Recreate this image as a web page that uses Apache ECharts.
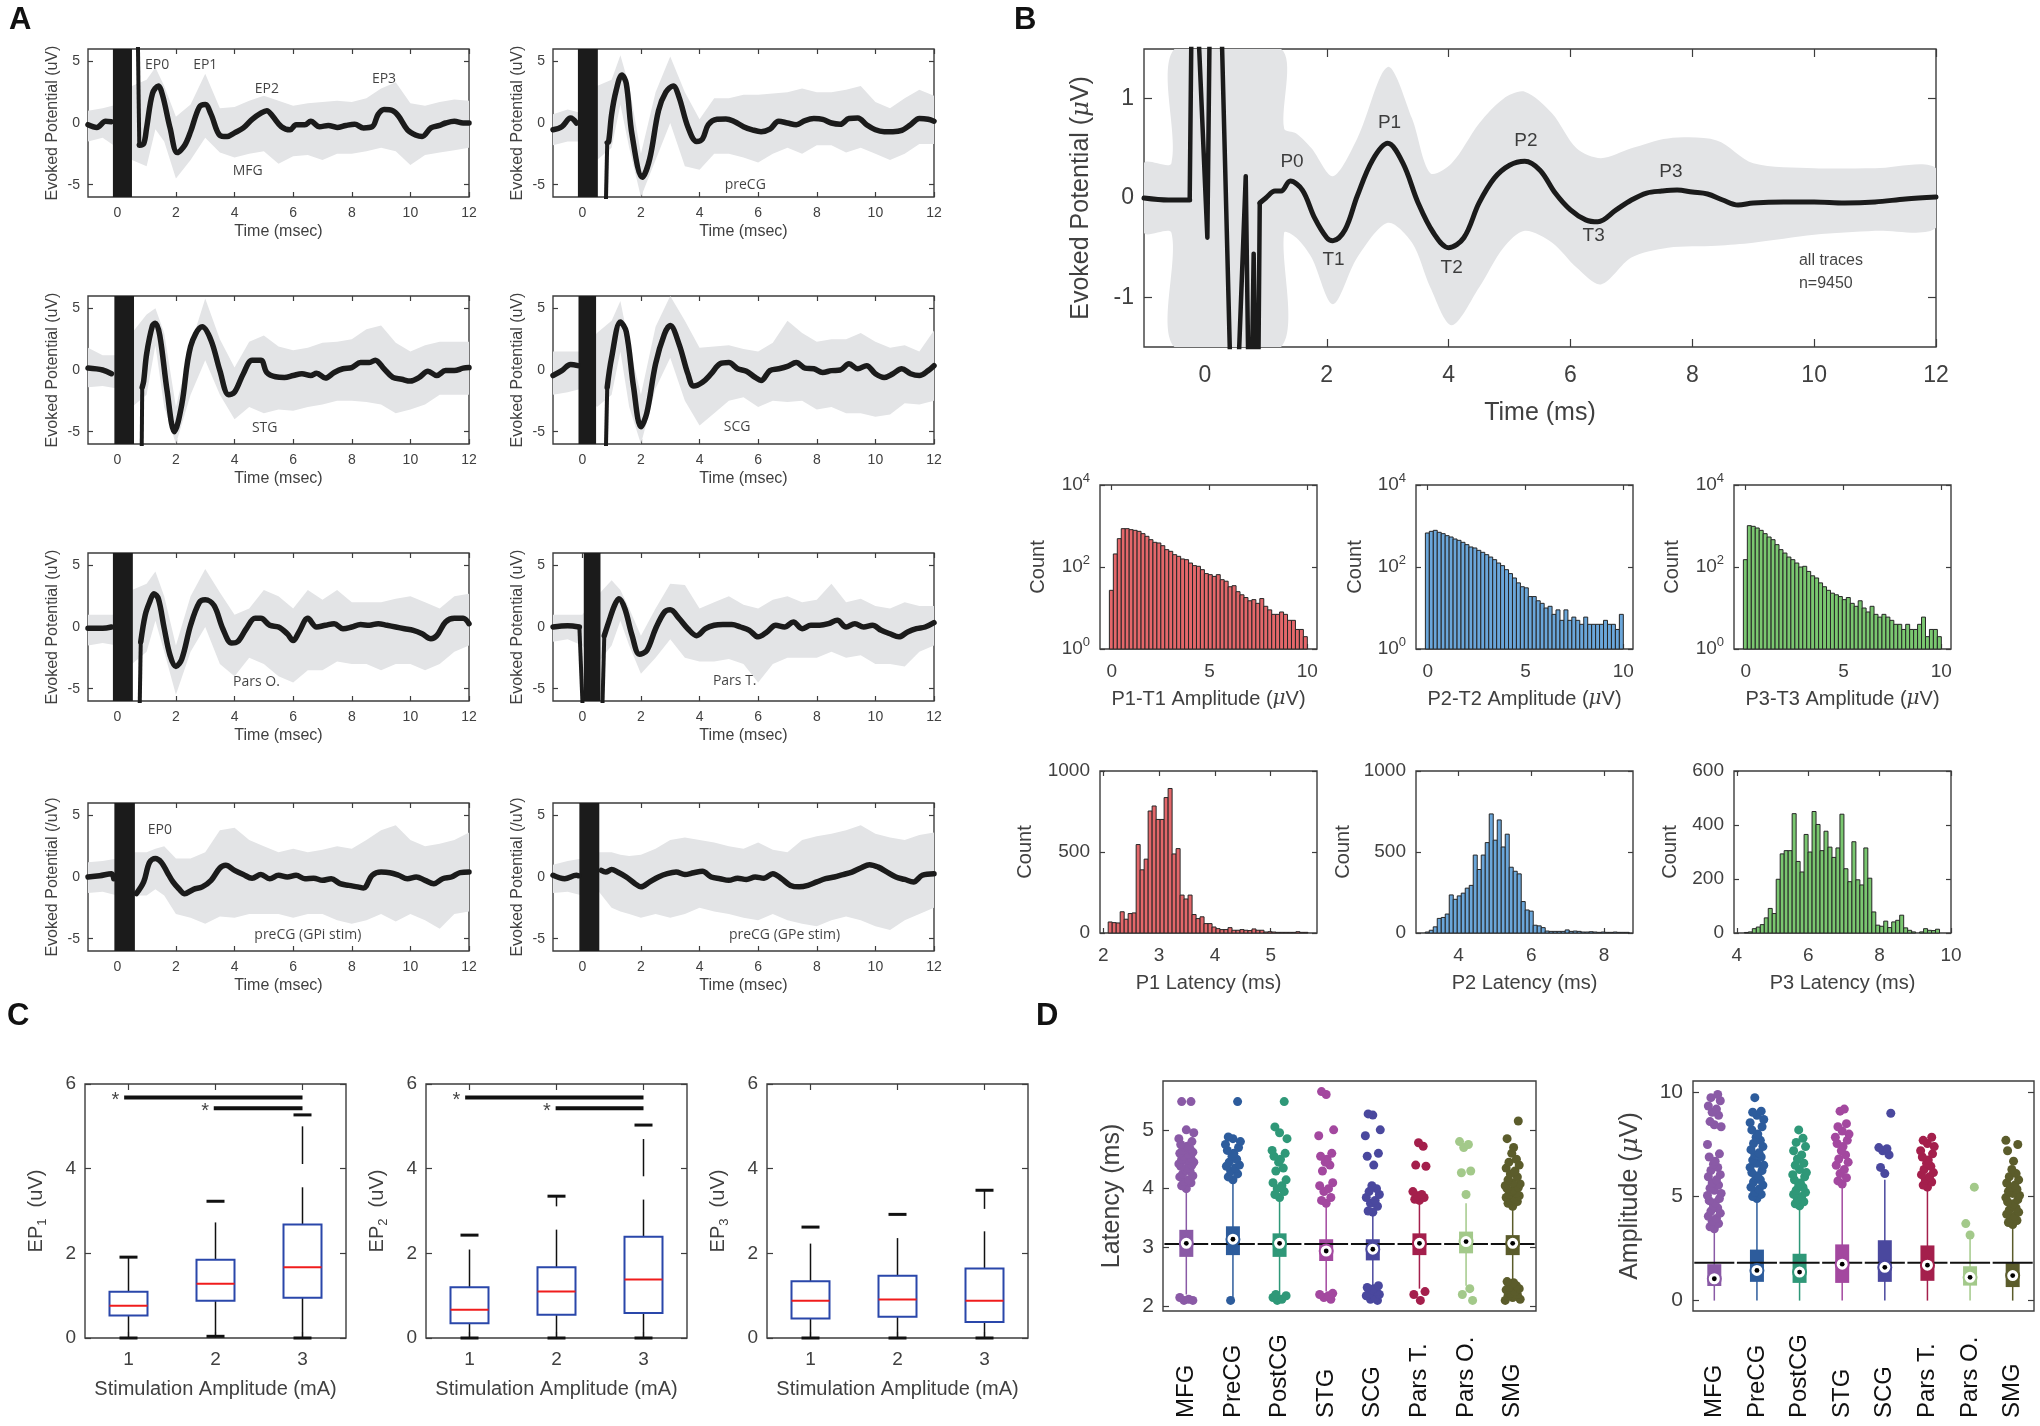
<!DOCTYPE html>
<html>
<head>
<meta charset="utf-8">
<script src="https://cdn.jsdelivr.net/npm/echarts@6/dist/echarts.min.js"></script>
<style>
html, body { margin: 0; padding: 0; background: #fff; }
#chart { width: 2040px; height: 1426px; }
</style>
</head>
<body>
<div id="chart"></div>
<script>
// ---------- A: evoked potentials per region ----------
const bandT = [-1,-0.5,0,0.5,1.0,1.3,1.6,2.0,2.5,3.0,3.5,4.0,4.5,5.0,5.5,6.0,6.5,7.0,7.5,8.0,8.5,9.0,9.5,10.0,10.5,11.0,11.5,12.0];

const mfgT = [-1,-0.7,-0.4,-0.2,-0.1,0.75,0.9,1.0,1.2,1.4,1.55,1.8,2.05,2.3,2.5,2.8,3.0,3.2,3.5,3.75,4.0,4.3,4.6,4.9,5.1,5.3,5.6,5.9,6.1,6.4,6.6,6.9,7.2,7.5,7.8,8.1,8.4,8.7,8.9,9.1,9.4,9.6,9.9,10.2,10.4,10.7,11.0,11.2,11.5,11.8,12];
const mfgV = [-0.14,-0.36,0.14,0.1,0,-1.8,-1.67,-0.4,2.4,3.0,2.2,-0.4,-2.4,-1.8,-0.7,1.3,1.5,0.7,-1.0,-1.1,-0.8,-0.4,0.3,0.8,1.0,0.55,-0.3,-0.55,-0.14,-0.14,0.14,-0.3,-0.2,-0.36,-0.2,-0.1,-0.4,-0.3,0.7,1.1,1.0,0.55,-0.55,-1.0,-1.1,-0.4,-0.2,0,0.14,0,0];
const mfgHi = [1.0,1.2,1.5,3.0,3.5,4.5,3.0,0.5,1.5,4.0,1.2,1.3,1.8,2.2,1.8,1.4,1.6,1.7,1.8,1.7,2.0,2.8,3.3,1.6,1.4,1.7,1.9,1.8];
const mfgLo = [-1.5,-1.2,-2.0,-3.0,-3.5,-0.5,-1.5,-4.5,-3.0,-1.2,-2.4,-2.8,-2.5,-2.3,-3.3,-2.7,-2.6,-3.0,-2.5,-2.5,-2.3,-2.0,-2.3,-3.4,-2.6,-2.4,-2.2,-2.0];
const mfgArtT = [0.7,0.75], mfgArtV = [7,-1.8];
const mfgNotes = [[1.36,4.7,'EP0'],[3.0,4.7,'EP1'],[5.1,2.75,'EP2'],[9.1,3.55,'EP3'],[4.45,-3.9,'MFG']];

const precgT = [-1,-0.7,-0.4,-0.2,-0.1,0.85,0.9,1.0,1.15,1.35,1.5,1.7,2.05,2.3,2.6,2.85,3.1,3.3,3.6,3.9,4.1,4.3,4.6,4.9,5.2,5.5,5.8,6.1,6.4,6.7,7.0,7.3,7.6,7.9,8.2,8.5,8.8,9.1,9.4,9.7,10.0,10.3,10.6,10.9,11.2,11.5,11.8,12];
const precgV = [-0.55,-0.3,0.4,0,-1.0,-1.6,-1.5,0.7,2.6,3.9,3.2,-1.0,-4.4,-2.9,1.0,2.5,3.0,2.1,-0.3,-1.5,-1.3,-0.14,0.3,0.33,0.1,-0.3,-0.55,-0.7,-0.5,0.14,0,-0.14,0.2,0.36,0.3,0,-0.1,0.36,0.4,-0.14,-0.55,-0.7,-0.7,-0.6,-0.14,0.36,0.3,0.14];
const precgHi = [0.7,1.1,0.8,3.0,3.5,5.5,3.0,-2.5,2.5,5.4,2.5,0.3,2.0,2.0,2.3,2.3,2.4,2.5,2.8,2.5,2.5,2.7,3.0,1.7,1.2,2.0,2.7,2.2];
const precgLo = [-1.8,-1.5,-1.5,-3.0,-2.0,1.5,-2.0,-6.0,-3.0,0.0,-3.5,-3.8,-2.5,-2.5,-2.8,-3.2,-2.5,-2.0,-2.5,-1.8,-1.8,-2.4,-2.0,-2.5,-3.0,-2.5,-1.7,-1.7];
const precgArtT = [0.8,0.85], precgArtV = [-7,-1.6];
const precgNotes = [[5.56,-5.0,'preCG']];

const stgT = [-1,-0.5,-0.2,0.85,0.9,1.0,1.2,1.3,1.45,1.7,1.95,2.2,2.5,2.9,3.2,3.5,3.8,4.0,4.3,4.6,4.9,5.1,5.4,5.7,6.0,6.3,6.6,6.8,7.1,7.4,7.7,8.0,8.3,8.6,8.8,9.1,9.4,9.7,10.0,10.3,10.6,10.9,11.2,11.5,11.8,12];
const stgV = [0.16,0,-0.3,-1.4,-0.9,1.3,3.6,3.8,2.8,-1.7,-5.0,-2.8,1.9,3.5,2.4,-0.05,-2.0,-1.8,-0.3,0.8,0.8,-0.2,-0.55,-0.6,-0.45,-0.3,-0.45,-0.27,-0.65,-0.2,0.1,0.2,0.6,0.6,0.8,0.1,-0.6,-0.75,-0.9,-0.6,-0.1,-0.45,-0.05,-0.05,0.15,0.2];
const stgHi = [1.8,1.2,1.2,3.0,4.5,5.0,3.0,-3.0,2.0,5.8,2.5,0.2,2.3,2.8,1.9,1.6,1.8,2.2,2.3,2.5,3.3,3.6,2.2,1.5,2.0,2.3,2.3,2.3];
const stgLo = [-1.4,-1.3,-1.5,-3.0,-2.0,2.0,-3.0,-6.0,-2.0,0.8,-2.0,-4.0,-3.0,-3.5,-3.2,-3.3,-3.0,-2.8,-2.5,-2.5,-2.6,-2.8,-3.5,-3.2,-2.8,-2.0,-2.0,-2.0];
const stgArtT = [0.83,0.85], stgArtV = [-7,-1.4];
const stgNotes = [[5.03,-4.7,'STG']];

const scgT = [-1,-0.7,-0.4,-0.15,0.85,1.0,1.3,1.5,1.75,2.0,2.2,2.5,2.8,3.0,3.3,3.6,3.8,4.1,4.4,4.7,5.0,5.3,5.6,5.9,6.1,6.4,6.7,7.0,7.3,7.6,7.9,8.2,8.5,8.8,9.1,9.4,9.7,10.0,10.3,10.6,10.9,11.2,11.5,11.8,12];
const scgV = [-0.45,-0.05,0.45,0.35,-1.4,1.0,3.9,3.1,-1.4,-4.6,-3.5,0.5,2.9,3.6,2.1,-0.3,-1.3,-1.0,-0.3,0.5,0.6,0.1,-0.1,-0.6,-0.85,-0.05,0.1,0.3,0.6,0.15,0.1,-0.2,-0.05,0,0.5,0.1,0.35,-0.3,-0.6,-0.3,0.1,-0.3,-0.45,-0.05,0.35];
const scgHi = [1.5,1.5,1.5,3.0,4.0,5.6,2.0,-2.0,3.5,6.0,4.0,1.8,1.9,2.0,1.7,1.5,2.2,4.0,3.0,2.3,2.5,2.5,3.0,2.3,1.8,2.0,1.5,3.2];
const scgLo = [-2.0,-1.8,-1.5,-3.0,-2.0,1.5,-3.0,-6.0,-1.5,1.0,-2.5,-4.5,-3.5,-2.5,-2.2,-3.0,-2.5,-2.6,-2.5,-3.2,-3.0,-3.5,-3.5,-3.8,-3.6,-2.7,-2.8,-2.5];
const scgArtT = [0.8,0.85], scgArtV = [-7,-1.4];
const scgNotes = [[5.28,-4.6,'SCG']];

const parsoT = [-1,-0.5,-0.2,0.8,0.95,1.1,1.25,1.4,1.6,1.8,2.0,2.2,2.5,2.8,3.0,3.3,3.6,3.9,4.1,4.4,4.7,4.9,5.2,5.5,5.8,6.0,6.2,6.5,6.8,7.1,7.4,7.7,8.0,8.3,8.6,8.9,9.2,9.5,9.8,10.1,10.4,10.7,10.9,11.2,11.5,11.8,12];
const parsoV = [-0.1,-0.1,0,-1.2,0.95,2.0,2.7,2.3,-0.1,-2.3,-3.2,-2.6,0.14,2.0,2.2,1.75,-0.14,-1.3,-1.2,-0.14,0.7,0.7,0.14,0,-0.55,-1.1,-0.4,0.7,0,0.14,0.27,-0.14,0,0.2,0.14,0.27,0.14,0,-0.14,-0.27,-0.55,-0.95,-0.7,0.4,0.7,0.7,0.27];
const parsoHi = [1.0,1.0,1.0,3.0,3.5,4.5,2.5,-1.5,2.5,4.7,2.8,1.0,1.5,3.0,2.5,1.5,3.0,2.2,3.0,2.0,2.0,2.0,2.3,2.5,2.0,1.5,2.5,2.7];
const parsoLo = [-1.5,-1.3,-1.5,-3.0,-2.0,0.5,-2.0,-5.5,-2.0,0.0,-3.0,-4.0,-2.5,-3.0,-4.0,-4.5,-3.5,-3.5,-2.8,-3.0,-3.0,-3.5,-3.0,-3.0,-3.5,-3.0,-2.0,-1.5];
const parsoArtT = [0.76,0.8], parsoArtV = [-7,-1.2];
const parsoNotes = [[4.75,-4.46,'Pars O.']];

const parstT = [-1,-0.5,-0.1,0.75,0.9,1.1,1.25,1.45,1.7,1.95,2.2,2.5,2.8,3.0,3.3,3.6,3.9,4.2,4.5,4.8,5.1,5.4,5.7,6.0,6.3,6.6,6.9,7.2,7.5,7.8,8.1,8.4,8.7,9.0,9.3,9.6,9.9,10.2,10.5,10.8,11.1,11.4,11.7,12];
const parstV = [0,0.1,0,-0.7,0.4,1.75,2.3,1.5,-0.7,-2.2,-1.9,-0.14,1.2,1.4,0.7,-0.14,-0.7,-0.14,0.14,0.2,0.2,0,-0.27,-0.8,-0.4,0.14,0,0.4,-0.14,0.14,0.14,0.27,0.54,0,0.27,0,0.14,-0.27,-0.55,-0.8,-0.4,-0.14,0,0.35];
const parstHi = [1.0,1.0,1.0,2.5,3.8,3.0,1.5,-0.7,1.5,3.5,3.4,1.5,2.0,2.5,1.8,1.5,2.2,2.5,2.0,2.2,3.5,2.0,2.3,1.7,1.5,2.0,1.7,1.7];
const parstLo = [-1.2,-1.0,-1.5,-3.0,-1.5,0.5,-1.5,-3.8,-2.5,-1.0,-2.5,-2.8,-2.8,-2.6,-3.0,-4.5,-3.0,-2.5,-2.5,-2.5,-2.0,-2.5,-2.3,-3.0,-3.0,-3.2,-2.0,-1.5];
const parstArtT = [-0.1,0.02,null,0.68,0.75], parstArtV = [0,-7,null,-7,-0.7];
const parstNotes = [[5.2,-4.4,'Pars T.']];

const gpiT = [-1,-0.6,-0.2,-0.12,0.65,0.9,1.1,1.3,1.5,1.7,1.9,2.1,2.3,2.6,2.9,3.2,3.5,3.7,4.0,4.3,4.6,4.9,5.2,5.5,5.8,6.1,6.4,6.7,7.0,7.3,7.6,7.9,8.2,8.4,8.7,9.0,9.3,9.6,9.9,10.2,10.5,10.8,11.1,11.4,11.7,12];
const gpiV = [0,0.1,0.27,-0.14,-1.35,-0.4,1.2,1.5,1.2,0.4,-0.4,-0.95,-1.35,-1.0,-0.8,-0.27,0.73,0.95,0.54,0.2,-0.1,0.2,-0.14,0.14,0,0.14,-0.14,-0.1,-0.27,-0.14,-0.54,-0.68,-0.8,-0.9,0.14,0.4,0.35,0.14,-0.14,0,-0.27,-0.54,-0.14,0,0.35,0.4];
const gpiHi = [1.2,1.3,1.5,2.0,2.0,2.3,2.5,1.5,1.5,2.0,3.8,4.0,3.0,2.5,2.0,2.3,2.0,2.2,2.5,2.3,3.0,3.8,4.2,3.0,2.5,2.7,3.0,3.6];
const gpiLo = [-1.3,-1.2,-1.5,-1.5,-1.5,-1.0,-1.5,-3.0,-3.3,-3.8,-3.2,-3.3,-3.0,-3.0,-3.0,-3.3,-3.0,-3.0,-3.5,-3.8,-3.5,-3.0,-3.6,-3.0,-3.5,-4.2,-3.0,-2.8];
const gpiArtT = [], gpiArtV = [];
const gpiNotes = [[1.45,3.8,'EP0'],[6.5,-4.73,'preCG (GPi stim)']];

const gpeT = [-1,-0.6,-0.2,-0.12,0.65,0.8,1.0,1.2,1.5,1.8,2.0,2.3,2.6,2.9,3.2,3.5,3.8,4.1,4.4,4.7,5.0,5.3,5.6,5.9,6.2,6.5,6.8,7.1,7.4,7.7,8.0,8.3,8.6,8.9,9.2,9.5,9.8,10.1,10.4,10.7,11.0,11.3,11.6,12];
const gpeV = [0.14,-0.14,0.14,0.1,0.54,0.4,0.6,0.4,0,-0.54,-0.8,-0.4,0,0.27,0.4,0.2,0.35,0.46,0,-0.14,-0.27,-0.1,-0.2,0,-0.1,0.27,-0.14,-0.68,-0.8,-0.68,-0.4,-0.14,0,0.2,0.4,0.73,1.0,0.8,0.4,0,-0.2,-0.4,0.14,0.27];
const gpeHi = [1.0,1.3,1.5,2.0,2.0,1.8,1.7,1.8,2.3,3.0,3.2,3.0,2.8,2.5,2.3,2.8,2.2,2.0,3.0,3.3,3.5,3.8,4.2,3.5,3.2,3.0,3.4,3.6];
const gpeLo = [-1.3,-1.2,-1.5,-1.0,-2.5,-2.8,-3.0,-3.3,-3.0,-3.3,-3.0,-2.5,-2.8,-3.0,-3.3,-3.5,-3.0,-3.5,-3.8,-4.0,-3.5,-3.2,-3.5,-4.0,-4.3,-3.5,-3.0,-2.5];
const gpeArtT = [], gpeArtV = [];
const gpeNotes = [[6.9,-4.73,'preCG (GPe stim)']];

// stimulation artifact windows (ms), order: MFG, preCG, STG, SCG, Pars O., Pars T., GPi, GPe
const artStart = [-0.15,-0.15,-0.1,-0.13,-0.15,0.05,-0.1,-0.1];
const artEnd   = [0.5,0.53,0.57,0.47,0.53,0.62,0.6,0.58];
const aXTicks = [0,2,4,6,8,10,12];
const aYTicks = [-5,0,5];

// ---------- B: grand average ----------
const bBandT  = [-1,-0.55,-0.5,1.25,1.3,1.5,1.75,2.1,2.5,3.0,3.4,3.7,4.05,4.5,4.9,5.25,5.7,6.1,6.5,7.0,7.6,8.4,9.0,10,11,12];
const bBandHi = [0.35,0.35,1.5,1.5,0.7,0.65,0.5,0.22,0.6,1.32,0.8,0.25,0.35,0.75,1.0,1.07,0.85,0.5,0.4,0.5,0.6,0.58,0.35,0.3,0.3,0.3];
const bBandLo = [-0.35,-0.35,-1.5,-1.5,-0.35,-0.4,-0.6,-1.07,-0.6,-0.25,-0.45,-0.9,-1.28,-0.9,-0.5,-0.33,-0.45,-0.7,-0.87,-0.6,-0.5,-0.48,-0.45,-0.37,-0.33,-0.3];
const bT = [-1,-0.6,-0.25,0.9,1.0,1.15,1.25,1.4,1.6,1.8,2.0,2.1,2.3,2.5,2.75,3.0,3.25,3.5,3.75,4.0,4.25,4.5,4.75,5.0,5.25,5.5,5.75,6.0,6.25,6.45,6.75,7.0,7.25,7.5,7.75,8.0,8.25,8.5,8.75,9,9.5,10,10.5,11,11.5,12];
const bV = [0,-0.02,-0.02,-0.05,0.0,0.07,0.07,0.17,0.08,-0.2,-0.4,-0.43,-0.32,0.02,0.38,0.55,0.35,-0.05,-0.35,-0.5,-0.4,-0.05,0.2,0.33,0.37,0.28,0.05,-0.12,-0.22,-0.24,-0.12,-0.02,0.05,0.07,0.08,0.06,0.04,-0.02,-0.07,-0.05,-0.04,-0.04,-0.05,-0.04,-0.01,0.01];
const bArtT = [-0.25,-0.2,0.04,0.1,0.22,0.47,0.67,0.74,0.8,0.86,0.9];
const bArtV = [-0.02,3,-0.4,3,3,-3,0.22,-3,-0.56,-3,-0.05];
const bNotes = [[1.43,0.36,'P0'],[3.03,0.76,'P1'],[5.27,0.58,'P2'],[7.65,0.26,'P3'],[2.11,-0.62,'T1'],[4.05,-0.7,'T2'],[6.38,-0.38,'T3']];
const bInfo = [[9.75,-0.63,'all traces'],[9.75,-0.86,'n=9450']];

// histograms: counts per bin
const ampStart = -0.12, ampWidth = 0.2025;
const ampP1 = [27,208,491,861,861,814,784,741,650,560,464,400,385,331,265,241,200,182,157,151,125,108,104,86,69,65,59,65,49,45,33,35,25,21,18,15,16,13,17,11,9,7,7,8,7,5,5,3,3,2];
const ampP2 = [675,741,784,701,650,581,539,482,447,400,351,308,291,255,228,200,175,151,125,108,86,69,54,41,33,31,19,19,15,13,10,11,7,9,5,9,5,6,5,4,6,4,4,4,4,5,4,4,3,7];
const ampP3 = [151,1018,981,894,784,650,539,464,351,265,219,175,151,125,100,104,78,61,54,41,33,27,23,21,19,16,18,13,11,15,10,8,11,7,6,7,6,5,4,4,3,4,3,3,4,6,2,3,3,2];
const latP1 = [68,64,62,131,85,120,124,546,390,456,753,784,701,701,836,892,488,521,234,210,234,114,89,100,58,58,37,27,21,21,33,17,17,21,17,15,25,17,17,6,8,6,4,4,4,4,4,8,4,4];
const latP2 = [6,17,38,90,96,117,235,208,229,246,277,294,481,392,481,558,735,573,698,531,610,406,381,365,194,142,135,48,44,33,12,10,10,10,10,19,10,12,10,6,6,8,6,4,6,4,4,6,4,4,4];
const latP3 = [2,4,16,22,31,56,91,72,199,293,305,305,442,265,226,365,300,450,402,305,377,318,280,315,440,238,190,338,197,178,315,203,78,29,25,44,20,41,47,66,19,10,4,0,4,16,10,9,14,0];
const latStart = [2.087, 3.085, 4.21];
const latWidth = [0.0716, 0.11, 0.1116];

// ---------- C: box plots [x, low, q1, median, q3, high] ----------
const c1Stats = [[1,0,0.53,0.76,1.09,1.91],[2,0.04,0.88,1.28,1.85,2.73],[3,0,0.95,1.67,2.68,3.56]];
const c2Stats = [[1,0,0.35,0.67,1.2,2.09],[2,0,0.55,1.1,1.67,2.56],[3,0,0.59,1.38,2.39,3.27]];
const c3Stats = [[1,0,0.46,0.88,1.34,2.23],[2,0,0.5,0.91,1.47,2.36],[3,0,0.38,0.88,1.64,2.52]];
const c1Dash = [[1,0],[1,1.91],[2,0.04],[2,3.23],[3,0],[3,5.27]];
const c2Dash = [[1,0],[1,2.43],[2,0],[2,3.35],[3,0],[3,5.03]];
const c3Dash = [[1,0],[1,2.62],[2,0],[2,2.92],[3,0],[3,3.49]];
const c1Seg = [[3,4.11,5.0]];
const c2Seg = [[2,3.11,3.35],[3,3.82,4.7]];
const c3Seg = [[3,3.05,3.49]];
const c1Sig = [[0.95,3.0,5.68],[1.98,3.0,5.43]];
const c2Sig = [[0.95,3.0,5.68],[1.99,3.0,5.43]];
const c3Sig = [];

// ---------- D: per-region latency / amplitude ----------
const dRegions = ['MFG','PreCG','PostCG','STG','SCG','Pars T.','Pars O.','SMG'];
const dColors = ['#8a5aa6','#2d5c9c','#2f9878','#a3489f','#4a489e','#a41f4c','#a3c98a','#5b5c2b'];
const latStats = [[2.2,2.84,3.07,3.30,4.0],[2.12,2.87,3.14,3.36,4.2],[2.2,2.84,3.07,3.24,3.85],[2.25,2.77,2.94,3.14,3.7],[2.35,2.78,2.97,3.14,3.6],[2.3,2.87,3.07,3.24,3.75],[2.35,2.9,3.1,3.27,3.75],[2.42,2.87,3.07,3.21,3.7]];
const latRef = 3.06;
const latOut = [
  [4.0,4.05,4.1,4.12,4.15,4.2,4.22,4.25,4.3,4.32,4.35,4.38,4.4,4.42,4.45,4.48,4.5,4.52,4.55,4.58,4.6,4.62,4.65,4.68,4.7,4.72,4.75,4.8,4.85,4.95,5.0,5.48,5.48,2.1,2.12,2.15,2.1],
  [4.15,4.2,4.25,4.3,4.35,4.38,4.4,4.45,4.5,4.55,4.6,4.65,4.7,4.75,4.8,4.85,4.88,5.48,2.1],
  [3.85,3.9,3.95,4.0,4.05,4.1,4.15,4.3,4.35,4.45,4.5,4.55,4.6,4.65,4.85,4.95,5.05,5.48,2.1,2.12,2.15,2.18,2.2],
  [3.75,3.8,3.85,3.95,4.0,4.05,4.1,4.3,4.4,4.45,4.5,4.55,4.6,4.9,5.0,5.6,5.65,2.12,2.15,2.18,2.2,2.22],
  [3.6,3.62,3.7,3.75,3.8,3.85,3.9,3.95,4.0,4.05,4.4,4.55,4.6,4.9,5.0,5.25,5.27,2.1,2.12,2.15,2.18,2.2,2.22,2.25,2.28,2.3,2.32,2.35],
  [3.8,3.82,3.85,3.88,3.9,3.95,4.38,4.4,4.72,4.78,2.1,2.2,2.25],
  [3.9,4.27,4.3,4.7,4.75,4.8,2.1,2.2,2.3],
  [3.7,3.75,3.78,3.8,3.82,3.85,3.88,3.9,3.92,3.95,3.98,4.0,4.02,4.05,4.08,4.1,4.15,4.2,4.25,4.3,4.35,4.4,4.45,4.5,4.6,4.7,4.85,5.15,2.1,2.12,2.15,2.18,2.2,2.22,2.25,2.28,2.3,2.32,2.35,2.38,2.4,2.42]
];
const ampStats = [[0,0.7,1.05,1.75,3.45],[0,0.9,1.45,2.45,4.9],[0,0.85,1.37,2.25,4.55],[0,0.85,1.75,2.7,5.6],[0,0.9,1.6,2.9,5.8],[0,0.95,1.7,2.65,5.4],[0,0.72,1.12,1.65,3.0],[0,0.65,1.2,1.8,3.6]];
const ampRef = 1.82;
const ampOut = [
  [3.45,3.55,3.7,3.8,3.95,4.05,4.2,4.3,4.45,4.55,4.7,4.8,4.9,5.05,5.15,5.3,5.4,5.55,5.65,5.8,5.95,6.05,6.25,6.4,6.55,6.7,6.9,7.05,7.5,8.35,8.45,8.6,8.9,9.05,9.2,9.35,9.6,9.75,9.9],
  [4.9,5.0,5.1,5.2,5.35,5.45,5.55,5.7,5.8,5.9,6.0,6.15,6.25,6.4,6.5,6.6,6.75,6.9,7.0,7.1,7.25,7.4,7.55,7.7,7.85,8.0,8.2,8.35,8.55,8.7,8.9,9.05,9.1,9.75],
  [4.55,4.65,4.75,4.85,5.0,5.1,5.2,5.3,5.45,5.55,5.65,5.8,5.95,6.05,6.15,6.3,6.5,6.6,6.8,7.0,7.2,7.4,7.6,7.8,8.2],
  [5.6,5.75,5.9,6.1,6.3,6.5,6.65,6.8,7.0,7.2,7.4,7.55,7.7,7.85,8.0,8.15,8.35,8.5,9.1,9.2],
  [6.1,6.4,7.0,7.2,7.3,7.35,9.0],
  [5.45,5.55,5.7,5.8,5.95,6.05,6.15,6.3,6.45,6.6,6.75,6.9,7.05,7.2,7.4,7.55,7.7,7.85],
  [3.15,3.7,5.45],
  [3.65,3.75,3.85,3.95,4.05,4.15,4.25,4.35,4.45,4.55,4.65,4.75,4.85,4.95,5.05,5.15,5.25,5.35,5.45,5.55,5.65,5.8,5.95,6.1,6.3,6.7,7.2,7.5,7.7]
];

// ---------- styling ----------
const AX = '#3d3d3d', TXT = '#404040', FF = 'Liberation Sans, Arial, sans-serif';
const TR = '#1b1b1b', BAND = '#e3e4e6';
const option = { animation: false, backgroundColor: '#ffffff', grid: [], xAxis: [], yAxis: [], series: [], graphic: [] };

function addPanel(p) {
  const gi = option.grid.length;
  option.grid.push({ left: p.l, top: p.t, width: p.w, height: p.h, show: true, borderColor: AX, borderWidth: 1.4,
    backgroundColor: 'rgba(0,0,0,0)', containLabel: false, outerBoundsMode: 'none' });
  const tick = vals => ({ show: vals.length > 0, inside: true, length: p.tl || 5, lineStyle: { color: AX, width: 1.2 }, customValues: vals });
  const lab = (vals, extra) => Object.assign({ customValues: vals, fontSize: p.fs, color: TXT, fontFamily: FF, formatter: v => String(v) }, extra || {});
  const nameStyle = extra => Object.assign({ fontSize: p.nfs, color: TXT, fontFamily: FF }, extra || {});
  const xBase = { type: 'value', gridIndex: gi, min: p.x[0], max: p.x[1], splitLine: { show: false }, axisLine: { show: false, onZero: false }, nameMoveOverlap: false };
  const xi = option.xAxis.length;
  option.xAxis.push(Object.assign({}, xBase, { position: 'bottom', axisTick: tick(p.xt), axisLabel: lab(p.xl || p.xt, Object.assign({ margin: p.xm }, p.xLab || {})),
    name: p.xn || '', nameLocation: 'middle', nameGap: p.xg, nameTextStyle: nameStyle(p.xnStyle) }));
  option.xAxis.push(Object.assign({}, xBase, { position: 'top', axisTick: tick(p.xt), axisLabel: { show: false } }));
  const yBase = { type: p.yType || 'value', gridIndex: gi, min: p.y[0], max: p.y[1], splitLine: { show: false }, axisLine: { show: false, onZero: false }, nameMoveOverlap: false };
  if (p.yType === 'log') yBase.logBase = 10;
  const yi = option.yAxis.length;
  option.yAxis.push(Object.assign({}, yBase, { position: 'left', axisTick: tick(p.yt), axisLabel: lab(p.yt, Object.assign({ margin: p.ym }, p.yLab || {})),
    name: p.yn || '', nameLocation: 'middle', nameGap: p.yg, nameTextStyle: nameStyle(p.ynStyle) }));
  option.yAxis.push(Object.assign({}, yBase, { position: 'right', axisTick: tick(p.yt), axisLabel: { show: false } }));
  return { xi, yi, x: p.x, y: p.y };
}

function onAxes(ax, s) { return Object.assign({ xAxisIndex: ax.xi, yAxisIndex: ax.yi, silent: true }, s); }

function addBand(ax, t, hi, lo, smooth) {
  option.series.push(onAxes(ax, { type: 'custom', z: 1, data: [[t[0], hi[0]]],
    renderItem: (params, api) => {
      const top = t.map((x, i) => api.coord([x, hi[i]]));
      const bot = t.map((x, i) => api.coord([x, lo[i]])).reverse();
      const shape = { points: top.concat(bot) };
      if (smooth) {
        const a = api.coord([ax.x[0], ax.y[1]]), b = api.coord([ax.x[1], ax.y[0]]);
        shape.smooth = smooth;
        shape.smoothConstraint = [[a[0], a[1]], [b[0], b[1]]];
      }
      return { type: 'polygon', shape: shape, style: { fill: BAND } };
    } }));
}

function addBlock(ax, s, e, y0, y1) {
  option.series.push(onAxes(ax, { type: 'custom', z: 4, data: [[s, y0]],
    renderItem: (params, api) => {
      const a = api.coord([s, y1]), b = api.coord([e, y0]);
      return { type: 'rect', shape: { x: a[0], y: a[1], width: b[0] - a[0], height: b[1] - a[1] }, style: { fill: TR } };
    } }));
}

function addTrace(ax, t, v, s, e, w) {
  const pre = [], post = [];
  t.forEach((x, i) => { if (x < s) pre.push([x, v[i]]); else if (x > e) post.push([x, v[i]]); });
  [pre, post].forEach(d => option.series.push(onAxes(ax, { type: 'line', data: d, smooth: 0.35, symbol: 'none', z: 5,
    lineStyle: { color: TR, width: w, cap: 'round', join: 'round' } })));
}

function addArt(ax, t, v, w) {
  let seg = [];
  const segs = [seg];
  t.forEach((x, i) => { if (x === null) { seg = []; segs.push(seg); } else seg.push([x, v[i]]); });
  segs.filter(s => s.length > 1).forEach(d => option.series.push(onAxes(ax, { type: 'line', data: d, smooth: false, symbol: 'none', z: 5,
    lineStyle: { color: TR, width: w, join: 'round' } })));
}

function addNotes(ax, notes, style) {
  option.series.push(onAxes(ax, { type: 'scatter', symbolSize: 0, z: 20,
    data: notes.map(n => ({ value: [n[0], n[1]], label: Object.assign({ show: true, position: 'inside', formatter: n[2] }, style) })) }));
}

function addHist(ax, vals, start, width, base, fill) {
  const data = [];
  vals.forEach((c, i) => { if (c > 0) data.push([start + i * width, start + (i + 1) * width, c]); });
  option.series.push(onAxes(ax, { type: 'custom', z: 3, data: data,
    renderItem: (params, api) => {
      const a = api.coord([api.value(0), api.value(2)]);
      const b = api.coord([api.value(1), base]);
      return { type: 'rect', shape: { x: a[0], y: a[1], width: b[0] - a[0], height: b[1] - a[1] },
        style: { fill: fill, stroke: '#262626', lineWidth: 1 } };
    } }));
}

// ---------- build A ----------
const aPanels = [
  [mfgT, mfgV, mfgHi, mfgLo, mfgArtT, mfgArtV, mfgNotes],
  [precgT, precgV, precgHi, precgLo, precgArtT, precgArtV, precgNotes],
  [stgT, stgV, stgHi, stgLo, stgArtT, stgArtV, stgNotes],
  [scgT, scgV, scgHi, scgLo, scgArtT, scgArtV, scgNotes],
  [parsoT, parsoV, parsoHi, parsoLo, parsoArtT, parsoArtV, parsoNotes],
  [parstT, parstV, parstHi, parstLo, parstArtT, parstArtV, parstNotes],
  [gpiT, gpiV, gpiHi, gpiLo, gpiArtT, gpiArtV, gpiNotes],
  [gpeT, gpeV, gpeHi, gpeLo, gpeArtT, gpeArtV, gpeNotes]
];
const aCols = [88, 553], aRows = [49, 296, 553, 803];
const noteA = { fontSize: 14, color: '#111', fontFamily: 'Open Sans, sans-serif' };
aPanels.forEach((d, k) => {
  const ax = addPanel({ l: aCols[k % 2], t: aRows[Math.floor(k / 2)], w: 381, h: 148, x: [-1, 12], y: [-6, 6],
    xt: aXTicks, yt: aYTicks, fs: 14, nfs: 16, tl: 5, xm: 9, ym: 8, xg: 27, yg: 27,
    xn: 'Time (msec)', yn: k >= 6 ? 'Evoked Potential (/uV)' : 'Evoked Potential (uV)' });
  addBand(ax, bandT, d[2], d[3], 0);
  addBlock(ax, artStart[k], artEnd[k], -6, 6);
  addTrace(ax, d[0], d[1], artStart[k], artEnd[k], 5.5);
  addArt(ax, d[4], d[5], 4);
  addNotes(ax, d[6], noteA);
});

// ---------- build B ----------
const muRich = fs => ({ i: { fontStyle: 'italic', fontSize: fs, color: TXT, fontFamily: 'DejaVu Serif, serif' } });
const bAx = addPanel({ l: 1144, t: 49, w: 792, h: 298, x: [-1, 12], y: [-1.5, 1.5], xt: aXTicks, yt: [-1, 0, 1],
  fs: 23, nfs: 25, tl: 8, xm: 17, ym: 10, xg: 54, yg: 50, xn: 'Time (ms)', yn: 'Evoked Potential ({i|μ}V)', ynStyle: { rich: muRich(24) } });
addBand(bAx, bBandT, bBandHi, bBandLo, 0.3);
addTrace(bAx, bT, bV, -0.24, 0.89, 5);
addArt(bAx, bArtT, bArtV, 4.5);
addNotes(bAx, bNotes, { fontSize: 19, color: '#111', fontFamily: FF });
addNotes(bAx, bInfo, { fontSize: 16, color: '#111', fontFamily: FF, align: 'left' });

const histL = [1100, 1416, 1734];
const histFill = ['#e4676a', '#6aa6da', '#7ac770'];
const logLab = {
  formatter: v => '{b|10}{s|' + Math.round(Math.log10(v)) + '}',
  rich: { b: { fontSize: 19, color: TXT, fontFamily: FF }, s: { fontSize: 13, color: TXT, fontFamily: FF, padding: [0, 0, 13, 0] } }
};
[ampP1, ampP2, ampP3].forEach((vals, k) => {
  const ax = addPanel({ l: histL[k], t: 485, w: 217, h: 164, x: [-0.6, 10.5], y: [1, 10000], yType: 'log',
    xt: [0, 5, 10], yt: [1, 100, 10000], fs: 19, nfs: 20, tl: 5, xm: 13, ym: 10, xg: 40, yg: [52, 51, 52][k],
    xn: ['P1-T1', 'P2-T2', 'P3-T3'][k] + ' Amplitude ({i|μ}V)', xnStyle: { rich: muRich(20) }, yn: 'Count', yLab: logLab });
  addHist(ax, vals, ampStart, ampWidth, 1, histFill[k]);
});
const latX = [[1.94, 5.83], [2.83, 8.8], [3.92, 10.0]];
const latXT = [[2, 3, 4, 5], [4, 6, 8], [4, 6, 8, 10]];
const latY = [[0, 1000], [0, 1000], [0, 600]];
const latYT = [[0, 500, 1000], [0, 500, 1000], [0, 200, 400, 600]];
[latP1, latP2, latP3].forEach((vals, k) => {
  const ax = addPanel({ l: histL[k], t: 771, w: 217, h: 162, x: latX[k], y: latY[k], xt: latXT[k], yt: latYT[k],
    fs: 19, nfs: 20, tl: 5, xm: 13, ym: 10, xg: 40, yg: [65, 63, 54][k], xn: 'P' + (k + 1) + ' Latency (ms)', yn: 'Count' });
  addHist(ax, vals, latStart[k], latWidth[k], 0, histFill[k]);
});

// ---------- build C ----------
const cSets = [[c1Stats, c1Dash, c1Seg, c1Sig], [c2Stats, c2Dash, c2Seg, c2Sig], [c3Stats, c3Dash, c3Seg, c3Sig]];
[85, 426, 767].forEach((l, k) => {
  const ax = addPanel({ l: l, t: 1084, w: 261, h: 254, x: [0.5, 3.5], y: [0, 6], xt: [1, 2, 3], yt: [0, 2, 4, 6],
    fs: 19, nfs: 20, tl: 6, xm: 12, ym: 9, xg: 41, yg: 36, xn: 'Stimulation Amplitude (mA)',
    yn: '{a|EP}{s|' + (k + 1) + '}{a|  (uV)}',
    ynStyle: { rich: { a: { fontSize: 20, color: TXT, fontFamily: FF }, s: { fontSize: 13, color: TXT, fontFamily: FF, padding: [12, 0, 0, 0] } } } });
  const [stats, dash, seg, sig] = cSets[k];
  option.series.push(onAxes(ax, { type: 'custom', z: 4, data: stats,
    renderItem: (params, api) => {
      const x = api.value(0);
      const p = [1, 2, 3, 4, 5].map(i => api.coord([x, api.value(i)]));
      const hw = 19;
      return { type: 'group', children: [
        { type: 'line', shape: { x1: p[0][0], y1: p[0][1], x2: p[1][0], y2: p[1][1] }, style: { stroke: '#111', lineWidth: 1.5 } },
        { type: 'line', shape: { x1: p[3][0], y1: p[3][1], x2: p[4][0], y2: p[4][1] }, style: { stroke: '#111', lineWidth: 1.5 } },
        { type: 'rect', shape: { x: p[3][0] - hw, y: p[3][1], width: 2 * hw, height: p[1][1] - p[3][1] }, style: { fill: 'none', stroke: '#2a47aa', lineWidth: 2 } },
        { type: 'line', shape: { x1: p[2][0] - hw, y1: p[2][1], x2: p[2][0] + hw, y2: p[2][1] }, style: { stroke: '#f01c1c', lineWidth: 2 } }
      ] };
    } }));
  option.series.push(onAxes(ax, { type: 'custom', z: 5, data: dash,
    renderItem: (params, api) => {
      const c = api.coord([api.value(0), api.value(1)]);
      return { type: 'line', shape: { x1: c[0] - 9, y1: c[1], x2: c[0] + 9, y2: c[1] }, style: { stroke: '#111', lineWidth: 3 } };
    } }));
  option.series.push(onAxes(ax, { type: 'custom', z: 5, data: seg,
    renderItem: (params, api) => {
      const a = api.coord([api.value(0), api.value(1)]), b = api.coord([api.value(0), api.value(2)]);
      return { type: 'line', shape: { x1: a[0], y1: a[1], x2: b[0], y2: b[1] }, style: { stroke: '#111', lineWidth: 1.5 } };
    } }));
  sig.forEach(s => {
    option.series.push(onAxes(ax, { type: 'line', data: [[s[0], s[2]], [s[1], s[2]]], symbol: 'none', z: 6, lineStyle: { color: '#111', width: 4 } }));
  });
  if (sig.length) addNotes(ax, sig.map(s => [s[0] - 0.1, s[2] - 0.08, '*']), { fontSize: 20, color: '#111', fontFamily: FF });
});

// ---------- build D ----------
const dCats = [1, 2, 3, 4, 5, 6, 7, 8];
const jit = [0, -0.1, 0.1, -0.05, 0.05, -0.14, 0.14, -0.08, 0.08, -0.02, 0.02, -0.12, 0.12, -0.16, 0.16];
const dLab = { rotate: 90, align: 'left', verticalAlign: 'middle', margin: 107, fontSize: 24, color: '#111', formatter: v => dRegions[Math.round(v) - 1] };
function addRegionPlot(ax, stats, outs, ref) {
  option.series.push(onAxes(ax, { type: 'custom', z: 3, data: stats.map((s, i) => [i + 1].concat(s)),
    renderItem: (params, api) => {
      const c = api.value(0), col = dColors[params.dataIndex];
      const lo = api.coord([c, api.value(1)]), q1 = api.coord([c, api.value(2)]);
      const q3 = api.coord([c, api.value(4)]), hi = api.coord([c, api.value(5)]);
      return { type: 'group', children: [
        { type: 'line', shape: { x1: lo[0], y1: lo[1], x2: hi[0], y2: hi[1] }, style: { stroke: col, lineWidth: 1.5 } },
        { type: 'rect', shape: { x: q3[0] - 7, y: q3[1], width: 14, height: q1[1] - q3[1] }, style: { fill: col } }
      ] };
    } }));
  outs.forEach((vals, i) => {
    option.series.push(onAxes(ax, { type: 'scatter', z: 4, symbol: 'circle', symbolSize: 9,
      itemStyle: { color: dColors[i], opacity: 1 },
      data: vals.map((v, j) => [i + 1 + jit[j % jit.length], v]) }));
  });
  option.series.push(onAxes(ax, { type: 'custom', z: 6, data: dCats.map(c => [c, ref]),
    renderItem: (params, api) => {
      const a = api.coord([api.value(0) - 0.47, api.value(1)]), b = api.coord([api.value(0) + 0.47, api.value(1)]);
      return { type: 'line', shape: { x1: a[0], y1: a[1], x2: b[0], y2: b[1] }, style: { stroke: '#111', lineWidth: 2 } };
    } }));
  option.series.push(onAxes(ax, { type: 'custom', z: 7, data: stats.map((s, i) => [i + 1, s[2]]),
    renderItem: (params, api) => {
      const p = api.coord([api.value(0), api.value(1)]);
      return { type: 'group', children: [
        { type: 'circle', shape: { cx: p[0], cy: p[1], r: 6.5 }, style: { fill: '#fff', stroke: dColors[params.dataIndex], lineWidth: 2 } },
        { type: 'circle', shape: { cx: p[0], cy: p[1], r: 2.4 }, style: { fill: '#000' } }
      ] };
    } }));
}
const d1 = addPanel({ l: 1163, t: 1081, w: 373, h: 230, x: [0.5, 8.5], y: [1.92, 5.83], xt: [], xl: dCats, yt: [2, 3, 4, 5],
  fs: 21, nfs: 25, tl: 6, ym: 9, yg: 38, yn: 'Latency (ms)', xLab: dLab });
addRegionPlot(d1, latStats, latOut, latRef);
const d2 = addPanel({ l: 1693, t: 1081, w: 341, h: 230, x: [0.5, 8.5], y: [-0.5, 10.55], xt: [], xl: dCats, yt: [0, 5, 10],
  fs: 21, nfs: 25, tl: 6, ym: 10, yg: 50, yn: 'Amplitude ({i|μ}V)', ynStyle: { rich: muRich(25) }, xLab: dLab });
addRegionPlot(d2, ampStats, ampOut, ampRef);

// ---------- panel letters ----------
[['A', 9, 5], ['B', 1014, 5], ['C', 7, 1001], ['D', 1036, 1001]].forEach(t => {
  option.graphic.push({ type: 'text', left: t[1], top: t[2], style: { text: t[0], font: 'bold 31px Liberation Sans, Arial, sans-serif', fill: '#111' } });
});

const chart = echarts.init(document.getElementById('chart'), null, { renderer: 'canvas' });
chart.setOption(option);
</script>
</body>
</html>
